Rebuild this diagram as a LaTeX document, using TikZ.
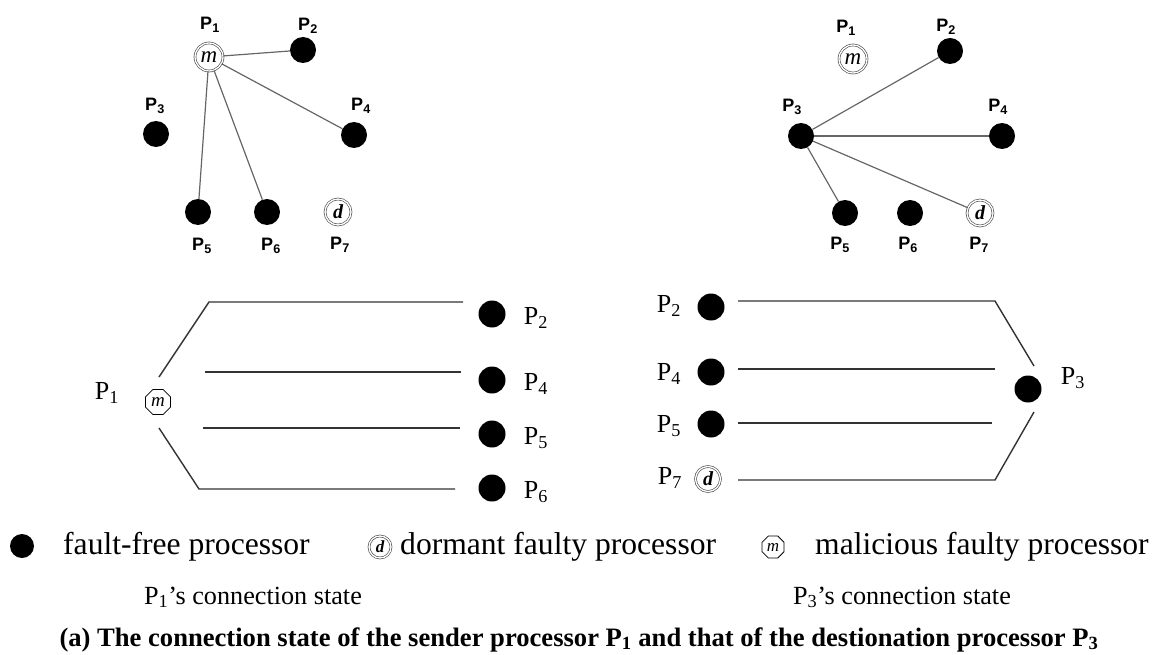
\documentclass[tikz,border=0pt]{standalone}
\usepackage{fontspec}
\setmainfont{Liberation Serif}
\newfontfamily\lblfont{Liberation Sans}
\usetikzlibrary{shapes.geometric}

\begin{document}
\begin{tikzpicture}[x=1pt,y=-1pt,
  % processors
  ff/.style={circle,fill=black,inner sep=0pt,minimum size=#1},
  ff/.default=26pt,
  ringnode/.style={circle,draw=black!70,double=white,double distance=1.3pt,
    line width=0.65pt,inner sep=0pt,minimum size=#1},
  ringnode/.default=26pt,
  octnode/.style={regular polygon,regular polygon sides=8,draw=black,
    line width=0.8pt,inner sep=0pt,minimum size=#1},
  octnode/.default=27pt,
  dchar/.style={font=\fontsize{20}{20}\selectfont\bfseries\itshape},
  mchar/.style={font=\fontsize{23}{23}\selectfont\itshape},
  % texts
  toplbl/.style={font=\lblfont\bfseries\fontsize{18}{18}\selectfont,inner sep=0pt},
  plbl/.style={font=\fontsize{26}{26}\selectfont,inner sep=0pt},
  legtxt/.style={font=\fontsize{31.6}{32}\selectfont,inner sep=0pt,anchor=base west},
  captxt/.style={font=\fontsize{26.2}{26}\selectfont,inner sep=0pt,anchor=base},
  % links
  toplink/.style={draw=black!60,line width=1.2pt},
  botlink/.style={draw=black!80,line width=1.4pt},
]
\useasboundingbox (0,0) rectangle (1158,655);

% ---------- upper left: links of P1 ----------
\node[ringnode=28pt,mchar] (a1) at (209,57) {m};
\node[ff] (a2) at (303,50) {};
\node[ff] (a3) at (156,134) {};
\node[ff] (a4) at (354,135) {};
\node[ff] (a5) at (198,212) {};
\node[ff] (a6) at (267,212) {};
\node[ringnode,dchar] (a7) at (338,212) {d};
\node[toplbl] (la1) at (210,25) {P\textsubscript{1}};
\node[toplbl] (la2) at (308,26) {P\textsubscript{2}};
\node[toplbl] (la3) at (155,106) {P\textsubscript{3}};
\node[toplbl] (la4) at (361,106) {P\textsubscript{4}};
\node[toplbl] (la5) at (202,246) {P\textsubscript{5}};
\node[toplbl] (la6) at (271,246) {P\textsubscript{6}};
\node[toplbl] (la7) at (340,245) {P\textsubscript{7}};
\draw[toplink] (a1) -- (a2);
\draw[toplink] (a1) -- (a4);
\draw[toplink] (a1) -- (a5);
\draw[toplink] (a1) -- (a6);

% ---------- upper right: links of P3 ----------
\node[ringnode=28pt,mchar] (b1) at (853,59) {m};
\node[ff] (b2) at (950,51) {};
\node[ff] (b3) at (801,136) {};
\node[ff] (b4) at (1002,136) {};
\node[ff] (b5) at (845,213) {};
\node[ff] (b6) at (910,213) {};
\node[ringnode,dchar] (b7) at (980,213) {d};
\node[toplbl] (lb1) at (846,28) {P\textsubscript{1}};
\node[toplbl] (lb2) at (946,27) {P\textsubscript{2}};
\node[toplbl] (lb3) at (792,107) {P\textsubscript{3}};
\node[toplbl] (lb4) at (998,107) {P\textsubscript{4}};
\node[toplbl] (lb5) at (840,245) {P\textsubscript{5}};
\node[toplbl] (lb6) at (908,245) {P\textsubscript{6}};
\node[toplbl] (lb7) at (979,245) {P\textsubscript{7}};
\draw[toplink] (b3) -- (b2);
\draw[toplink] (b3) -- (b4);
\draw[toplink] (b3) -- (b7);
\draw[toplink] (b3) -- (b5);

% ---------- lower left: connection state of P1 ----------
\node[octnode,font=\fontsize{19}{19}\selectfont\itshape] (s1) at (158,402) {m};
\node[plbl] (ls1) at (107,393) {P\textsubscript{1}};
\node[ff=27pt] (s2) at (492,314) {};
\node[ff=27pt] (s4) at (492,380) {};
\node[ff=27pt] (s5) at (492,434) {};
\node[ff=27pt] (s6) at (492,488) {};
\node[plbl] (ls2) at (536,318) {P\textsubscript{2}};
\node[plbl] (ls4) at (536,384) {P\textsubscript{4}};
\node[plbl] (ls5) at (536,438) {P\textsubscript{5}};
\node[plbl] (ls6) at (536,492) {P\textsubscript{6}};
\coordinate (sa) at (159,377);
\coordinate (sb) at (209,302);
\coordinate (sc) at (463,302);
\coordinate (sd) at (205,372);
\coordinate (se) at (461,372);
\coordinate (sf) at (203,428);
\coordinate (sg) at (460,428);
\coordinate (sh) at (159,428);
\coordinate (si) at (199,489);
\coordinate (sj) at (455,489);
\draw[botlink] (sa) -- (sb) -- (sc);
\draw[botlink] (sd) -- (se);
\draw[botlink] (sf) -- (sg);
\draw[botlink] (sh) -- (si) -- (sj);

% ---------- lower right: connection state of P3 ----------
\node[ff=27pt] (r3) at (1028,389) {};
\node[plbl] (lr3) at (1073,378) {P\textsubscript{3}};
\node[ff=27pt] (r2) at (711,307) {};
\node[ff=27pt] (r4) at (711,372) {};
\node[ff=27pt] (r5) at (711,424) {};
\node[ringnode=25pt,dchar] (r7) at (708,479) {d};
\node[plbl] (lr2) at (669,306) {P\textsubscript{2}};
\node[plbl] (lr4) at (669,374) {P\textsubscript{4}};
\node[plbl] (lr5) at (669,426) {P\textsubscript{5}};
\node[plbl] (lr7) at (670,478) {P\textsubscript{7}};
\coordinate (ra) at (738,301);
\coordinate (rb) at (995,301);
\coordinate (rc) at (1034,366);
\coordinate (rd) at (738,369);
\coordinate (re) at (995,369);
\coordinate (rf) at (738,423);
\coordinate (rg) at (992,423);
\coordinate (rh) at (738,480);
\coordinate (ri) at (995,480);
\coordinate (rj) at (1034,412);
\draw[botlink] (ra) -- (rb) -- (rc);
\draw[botlink] (rd) -- (re);
\draw[botlink] (rf) -- (rg);
\draw[botlink] (rh) -- (ri) -- (rj);

% ---------- legend ----------
\node[ff=24pt] (k1) at (22,546) {};
\node[legtxt] (t1) at (63,554) {fault-free processor};
\node[ringnode=22pt,font=\fontsize{17}{17}\selectfont\bfseries\itshape] (k2) at (380,547) {d};
\node[legtxt] (t2) at (400,554) {dormant faulty processor};
\node[octnode=24pt,font=\fontsize{17}{17}\selectfont\itshape] (k3) at (773,547) {m};
\node[legtxt] (t3) at (815,554) {malicious faulty processor};

% ---------- captions ----------
\node[captxt] (c1) at (253,604) {P\textsubscript{1}'s connection state};
\node[captxt] (c2) at (902,604) {P\textsubscript{3}'s connection state};
\node[inner sep=0pt,anchor=base,font=\fontsize{26.6}{27}\selectfont\bfseries] (c3) at (579,646)
  {(a) The connection state of the sender processor P\textsubscript{1} and that of the destionation processor P\textsubscript{3}};
\end{tikzpicture}
\end{document}
